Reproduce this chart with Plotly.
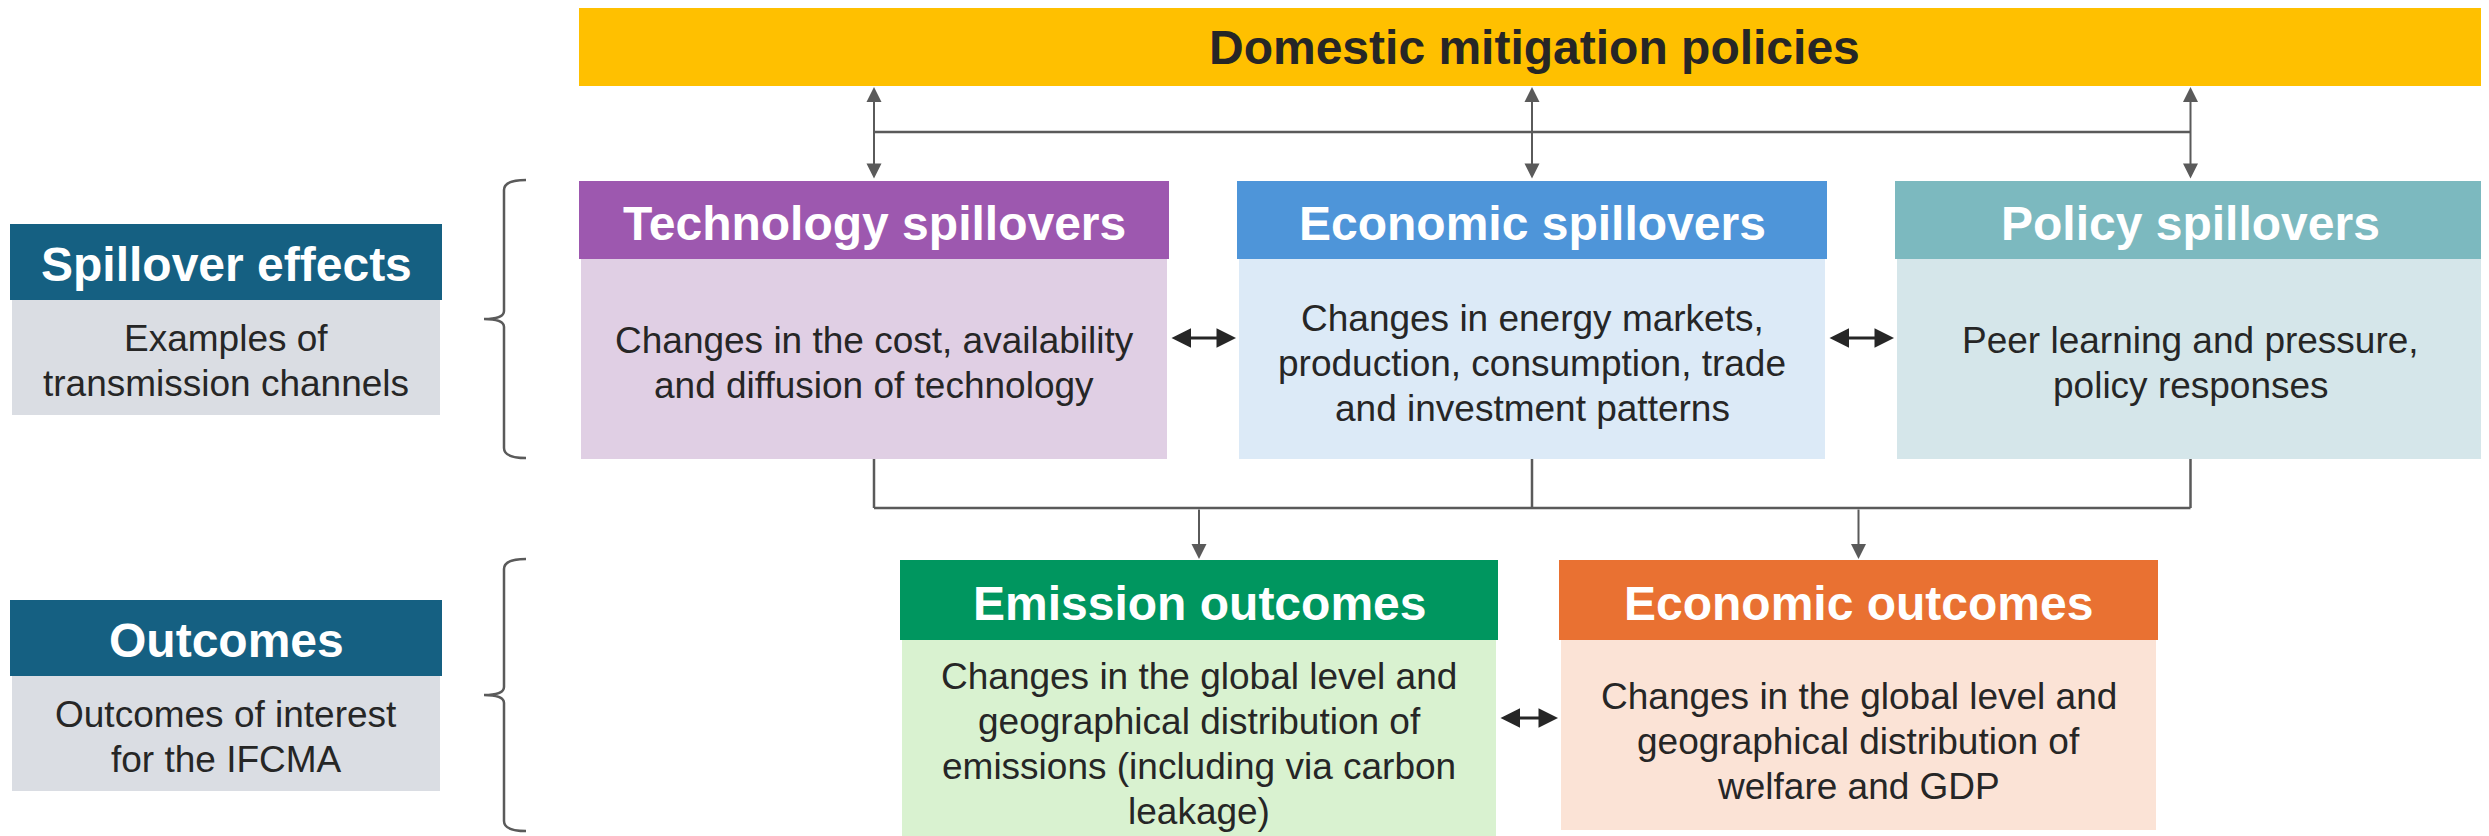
"""
    Schema : effets de debordement des politiques d'attenuation
    """
# imports
from plotly.graph_objects import Figure

W, H = 2489, 836
PAGE_MARGIN = 8  # marge par defaut du <body> de la page
FONT = "Liberation Sans, Arial, sans-serif"

# donnees (textes et categories)
top_title = "Domestic mitigation policies"
row_labels = ["Spillover effects", "Outcomes"]
row_notes = [["Examples of", "transmission channels"],
             ["Outcomes of interest", "for the IFCMA"]]
spill_titles = ["Technology spillovers", "Economic spillovers", "Policy spillovers"]
spill_notes = [["Changes in the cost, availability", "and diffusion of technology"],
               ["Changes in energy markets,", "production, consumption, trade",
                "and investment patterns"],
               ["Peer learning and pressure,", "policy responses"]]
outcome_titles = ["Emission outcomes", "Economic outcomes"]
outcome_notes = [["Changes in the global level and", "geographical distribution of",
                  "emissions (including via carbon", "leakage)"],
                 ["Changes in the global level and", "geographical distribution of",
                  "welfare and GDP"]]

# mise en page (positions et styles)
TOP_BOX = dict(x0=579, x1=2489, y0=6, y1=86, color="#FFC000")
LABEL_X = (10, 442)
LABEL_Y = [(224, 300, 415), (600, 676, 791)]
LABEL_COLORS = ("#156082", "#DADDE3")
SPILL_X = [(579, 1169), (1237, 1827), (1895, 2486)]
SPILL_Y = (181, 259, 459)
SPILL_COLORS = [("#9D58AF", "#E0CFE4"), ("#4E95D9", "#DCEAF7"), ("#7CB9BF", "#D5E6EA")]
OUT_X = [(900, 1498), (1559, 2158)]
OUT_Y = [(560, 640, 836), (560, 640, 830)]
OUT_COLORS = [("#00965F", "#D9F2D0"), ("#E97132", "#FBE3D6")]
BRACES = [(180, 458), (559, 831)]
GREY = "#5A5A5A"
DARK = "#262626"
LINE_STEP = 45
TITLE_DY = 3


def rect(fig, x0, x1, y0, y1, color):
    """Ajoute un rectangle plein"""
    fig.add_shape(type="rect", x0=x0, x1=x1, y0=y0, y1=y1,
                  fillcolor=color, line_width=0, layer="below")


def line(fig, x0, y0, x1, y1, color=GREY, width=2.5):
    """Ajoute un segment"""
    fig.add_shape(type="line", x0=x0, y0=y0, x1=x1, y1=y1,
                  line=dict(color=color, width=width))


def text(fig, x, y, s, size, color, bold=False):
    """Ajoute un texte centre"""
    fig.add_annotation(x=x, y=y, text=s, showarrow=False,
                       xanchor="center", yanchor="middle",
                       font=dict(family=FONT, size=size, color=color,
                                 weight="bold" if bold else "normal"))


def lines_text(fig, x, yc, lines, size=37, color=DARK):
    """Ajoute plusieurs lignes de texte centrees autour de yc"""
    n = len(lines)
    for i, s in enumerate(lines):
        text(fig, x, yc + (i - (n - 1) / 2) * LINE_STEP, s, size, color)


def arrow(fig, x0, y0, x1, y1, both=False, color=GREY, width=2, size=1.5):
    """Fleche de (x0, y0) vers (x1, y1)"""
    fig.add_annotation(x=x1, y=y1, ax=x0, ay=y0, xref="x", yref="y",
                       axref="x", ayref="y", text="", showarrow=True,
                       arrowhead=2, arrowsize=size, arrowwidth=width,
                       arrowcolor=color, standoff=0, startstandoff=0,
                       arrowside="end+start" if both else "end",
                       startarrowhead=2, startarrowsize=size)


def brace(fig, y0, y1):
    """Accolade ouvrante"""
    xt, xs, xe = 484, 504, 526
    ym = (y0 + y1) / 2
    path = (f"M {xe},{y0} Q {xs},{y0} {xs},{y0 + 10} L {xs},{ym - 8} "
            f"Q {xs},{ym} {xt},{ym} Q {xs},{ym} {xs},{ym + 8} "
            f"L {xs},{y1 - 10} Q {xs},{y1} {xe},{y1}")
    fig.add_shape(type="path", path=path, line=dict(color=GREY, width=2.5))


def main():
    """Main
    """
    fig = Figure()

    # bandeau du haut
    rect(fig, TOP_BOX["x0"], TOP_BOX["x1"], TOP_BOX["y0"], TOP_BOX["y1"], TOP_BOX["color"])
    text(fig, (TOP_BOX["x0"] + TOP_BOX["x1"]) / 2, (TOP_BOX["y0"] + TOP_BOX["y1"]) / 2 + 1,
         top_title, 48, DARK, bold=True)

    # etiquettes de gauche
    for label, note, (ya, yb, yc) in zip(row_labels, row_notes, LABEL_Y):
        xa, xb = LABEL_X
        rect(fig, xa, xb, ya, yb, LABEL_COLORS[0])
        rect(fig, xa + 2, xb - 2, yb, yc, LABEL_COLORS[1])
        text(fig, (xa + xb) / 2, (ya + yb) / 2 + 2, label, 48, "white", bold=True)
        lines_text(fig, (xa + xb) / 2, (yb + yc) / 2 + 3, note)

    # boites de debordement
    ya, yb, yc = SPILL_Y
    for title, note, (xa, xb), (ch, cb) in zip(spill_titles, spill_notes, SPILL_X, SPILL_COLORS):
        rect(fig, xa, xb, ya, yb, ch)
        rect(fig, xa + 2, xb - 2, yb, yc, cb)
        text(fig, (xa + xb) / 2, (ya + yb) / 2 + TITLE_DY, title, 48, "white", bold=True)
        lines_text(fig, (xa + xb) / 2, (yb + yc) / 2 + 4, note)

    # boites de resultats
    for title, note, (xa, xb), (ya2, yb2, yc2), (ch, cb) in zip(
            outcome_titles, outcome_notes, OUT_X, OUT_Y, OUT_COLORS):
        rect(fig, xa, xb, ya2, yb2, ch)
        rect(fig, xa + 2, xb - 2, yb2, yc2, cb)
        text(fig, (xa + xb) / 2, (ya2 + yb2) / 2 + TITLE_DY, title, 48, "white", bold=True)
        lines_text(fig, (xa + xb) / 2, (yb2 + yc2) / 2 + 6, note)

    # connexions haut
    centers = [(xa + xb) / 2 for xa, xb in SPILL_X]
    y_top = 132
    line(fig, centers[0], y_top, centers[-1], y_top)
    for cx in centers:
        arrow(fig, cx, ya - 1, cx, TOP_BOX["y1"] + 1, both=True)

    # connexions bas
    y_bot = 508
    line(fig, centers[0], y_bot, centers[-1], y_bot)
    for cx in centers:
        line(fig, cx, yc, cx, y_bot)
    for (xa, xb), (ya2, _, _) in zip(OUT_X, OUT_Y):
        cx = (xa + xb) / 2
        arrow(fig, cx, y_bot, cx, ya2 - 1)

    # fleches doubles horizontales
    ymid = 338
    for (xa, xb), (xc, xd) in zip(SPILL_X[:-1], SPILL_X[1:]):
        arrow(fig, xb + 1, ymid, xc - 1, ymid, both=True, color=DARK, width=3, size=1.3)
    ymid = 718
    arrow(fig, OUT_X[0][1] + 1, ymid, OUT_X[1][0] - 1, ymid, both=True,
          color=DARK, width=3, size=1.3)

    # accolades
    for y0, y1 in BRACES:
        brace(fig, y0, y1)

    # la page ajoute une marge de 8 px : on decale les axes pour que
    # les coordonnees correspondent aux pixels de la fenetre
    m = PAGE_MARGIN
    fig.update_layout(
        width=W - m, height=H - m,
        margin=dict(l=0, r=0, t=0, b=0),
        paper_bgcolor="white", plot_bgcolor="white",
        xaxis=dict(range=[m, W], visible=False, fixedrange=True),
        yaxis=dict(range=[H, m], visible=False, fixedrange=True),
        showlegend=False,
    )
    fig.write_html("out.html")


if __name__ == "__main__":
    main()
